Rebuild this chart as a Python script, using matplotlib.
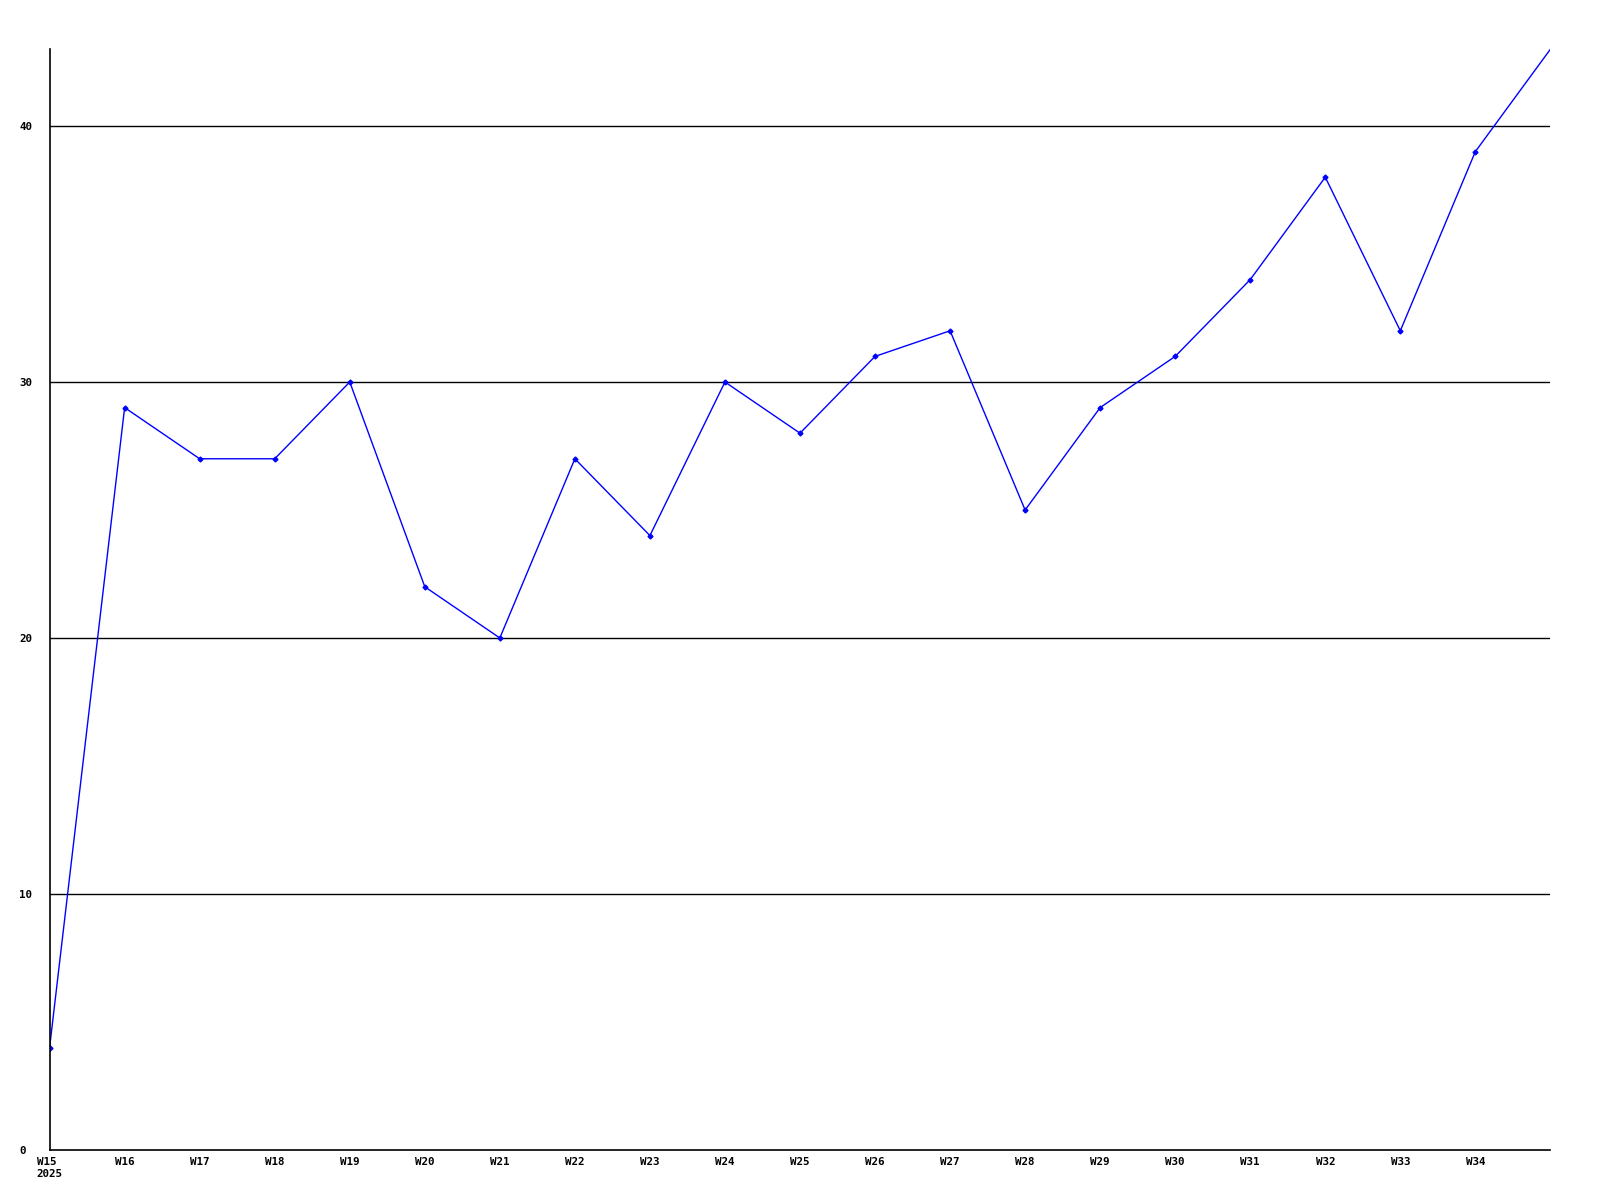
import matplotlib
matplotlib.use("Agg")
from matplotlib import pyplot as plt

weeks = ["W15", "W16", "W17", "W18", "W19", "W20", "W21", "W22", "W23", "W24",
         "W25", "W26", "W27", "W28", "W29", "W30", "W31", "W32", "W33", "W34", "W35"]
values = [4, 29, 27, 27, 30, 22, 20, 27, 24, 30,
          28, 31, 32, 25, 29, 31, 34, 38, 32, 39, 43]
tick_labels = ["W15\n2025"] + weeks[1:20]
y_ticks = [0, 10, 20, 30, 40]

plt.rcParams["font.family"] = "DejaVu Sans Mono"
plt.rcParams["font.weight"] = "bold"
plt.rcParams["font.size"] = 7.8

fig = plt.figure(figsize=(16, 12), dpi=100)
ax = fig.add_axes([0.031, 0.0417, 0.938, 0.9173])

x = list(range(len(weeks)))
ax.plot(x, values, color="#0000ff", linewidth=1, marker="D", markersize=2.5,
        markevery=list(range(20)))

for y in y_ticks[1:]:
    ax.axhline(y, color="black", linewidth=1, zorder=0)

ax.set_xlim(0, len(weeks) - 1)
ax.set_ylim(0, 43)
ax.set_xticks(x[:20])
ax.set_xticklabels(tick_labels, multialignment="left", linespacing=1.3)
ax.set_yticks(y_ticks)
ax.tick_params(length=0)
ax.tick_params(axis="x", pad=5)
ax.tick_params(axis="y", pad=22)
for lbl in ax.get_yticklabels():
    lbl.set_horizontalalignment("left")
for side in ["top", "right"]:
    ax.spines[side].set_visible(False)
for side in ["left", "bottom"]:
    ax.spines[side].set_linewidth(1.2)

fig.savefig("out.png", dpi=100)
